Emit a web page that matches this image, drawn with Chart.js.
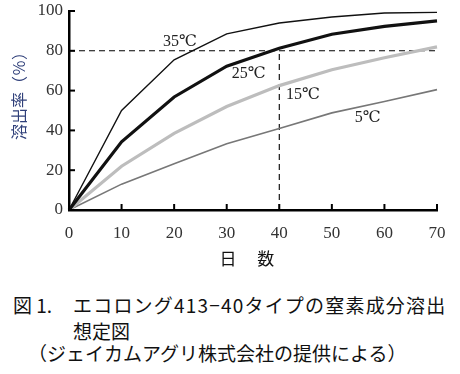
<!DOCTYPE html>
<html>
<head>
<meta charset="utf-8">
<script src="https://cdn.jsdelivr.net/npm/chart.js@4/dist/chart.umd.min.js"></script>
<style>
  body { margin: 0; background: #fff; }
  #wrap { position: relative; width: 460px; height: 374px; }
  #myChart { position: absolute; left: 0; top: 0; }
  .cap { position: absolute; font-family: "Noto Sans CJK JP", sans-serif; font-size: 19px; color: #111; white-space: nowrap; line-height: 1; }
</style>
</head>
<body>
<div id="wrap">
  <canvas id="myChart" width="460" height="280"></canvas>
  <div class="cap" style="left:13px; top:295px;">図 1.</div>
  <div class="cap" style="left:73px; top:295px; letter-spacing:1.2px;">エコロング413−40タイプの窒素成分溶出</div>
  <div class="cap" style="left:73px; top:321px;">想定図</div>
  <div class="cap" style="left:28px; top:343px;">（ジェイカムアグリ株式会社の提供による）</div>
</div>
<script>
var days = [0, 10, 20, 30, 40, 50, 60, 70];
var rate35 = [0, 50, 75.5, 88.5, 94, 97, 99, 99.3];
var rate25 = [0, 34.3, 56.8, 72.3, 81.3, 88.3, 92.3, 95];
var rate15 = [0, 22, 38.5, 52, 62.5, 70.5, 76.5, 82];
var rate5 = [0, 13, 23.3, 33.3, 41, 48.8, 54.5, 60.5];
var targetRate = 80;
var targetDay = 40;
var tempLabels = ["35℃", "25℃", "15℃", "5℃"];
var labelDays = [21.1, 34.2, 44.5, 56.8];
var labelRates = [84.3, 68.2, 58, 46.5];

function pts(ys) {
  return days.map(function (d, i) { return { x: d, y: ys[i] }; });
}

var serif = '"Liberation Serif", "DejaVu Serif", serif';
var cjk = '"Noto Sans CJK JP", sans-serif';

// ticks pointing into the plot, plus curve labels and y title
var extras = {
  id: 'extras',
  afterDraw: function (chart) {
    var ctx = chart.ctx;
    var xs = chart.scales.x, ys = chart.scales.y;
    var area = chart.chartArea;
    ctx.save();
    ctx.strokeStyle = '#000';
    ctx.lineWidth = 2;
    xs.ticks.forEach(function (t) {
      var px = xs.getPixelForValue(t.value);
      ctx.beginPath();
      ctx.moveTo(px, area.bottom);
      ctx.lineTo(px, area.bottom - 6);
      ctx.stroke();
    });
    ys.ticks.forEach(function (t) {
      var py = ys.getPixelForValue(t.value);
      ctx.beginPath();
      ctx.moveTo(area.left, py);
      ctx.lineTo(area.left + 6, py);
      ctx.stroke();
    });
    ctx.fillStyle = '#222';
    ctx.font = '16px ' + serif;
    ctx.textAlign = 'center';
    ctx.textBaseline = 'middle';
    tempLabels.forEach(function (s, i) {
      ctx.fillText(s, xs.getPixelForValue(labelDays[i]), ys.getPixelForValue(labelRates[i]));
    });
    ctx.translate(19, 92);
    ctx.rotate(-Math.PI / 2);
    ctx.fillStyle = '#30407a';
    ctx.font = '16px ' + cjk;
    ctx.fillText('溶出率（％）', 0, 0);
    ctx.restore();
  }
};

var canvas = document.getElementById('myChart');
var chart = new Chart(canvas, {
  type: 'line',
  data: {
    datasets: [
      { data: pts(rate35), borderColor: '#111', borderWidth: 1.4 },
      { data: pts(rate25), borderColor: '#111', borderWidth: 3.2 },
      { data: pts(rate15), borderColor: '#bdbdbd', borderWidth: 3.2 },
      { data: pts(rate5), borderColor: '#777', borderWidth: 1.6 },
      { data: [{ x: 0, y: targetRate }, { x: days[days.length - 1], y: targetRate }], borderColor: '#000', borderWidth: 1.1, borderDash: [6, 4] },
      { data: [{ x: targetDay, y: 0 }, { x: targetDay, y: targetRate }], borderColor: '#000', borderWidth: 1.1, borderDash: [6, 4] }
    ]
  },
  options: {
    responsive: false,
    animation: false,
    clip: false,
    layout: { padding: { left: 0, right: 23, top: 11, bottom: 0 } },
    elements: { point: { radius: 0 }, line: { tension: 0 } },
    plugins: { legend: { display: false }, tooltip: { enabled: false } },
    scales: {
      x: {
        type: 'linear', min: 0, max: 70,
        afterFit: function (s) { s.height = 70; s.paddingLeft = 0; s.paddingRight = 0; },
        border: { display: true, color: '#000', width: 2.5 },
        grid: { drawOnChartArea: false, drawTicks: false },
        ticks: { stepSize: 10, padding: 13, color: '#333', font: { family: serif, size: 17 } },
        title: { display: true, text: '日　 数\u2002 ', color: '#111', font: { family: cjk, size: 17 }, padding: { top: 0, bottom: 11 } }
      },
      y: {
        min: 0, max: 100,
        afterFit: function (s) { s.width = 69; s.paddingTop = 0; s.paddingBottom = 0; },
        border: { display: true, color: '#000', width: 2.5 },
        grid: { drawOnChartArea: false, drawTicks: false },
        ticks: { stepSize: 20, padding: 6, color: '#333', font: { family: serif, size: 17 } }
      }
    }
  },
  plugins: [extras]
});
</script>
</body>
</html>
